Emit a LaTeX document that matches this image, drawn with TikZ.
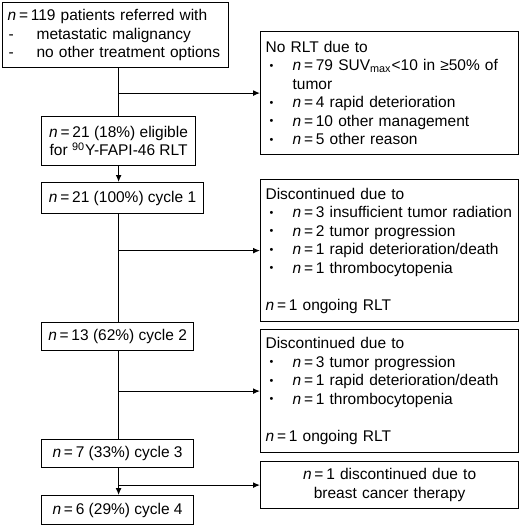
\documentclass[tikz,border=0pt]{standalone}
\usepackage{fontspec}
\setmainfont{Liberation Sans}
\usetikzlibrary{arrows.meta, positioning, calc}

\newcommand{\nval}{\textit{n}\hspace{0.18em}=\hspace{0.18em}}
\newcommand{\bitem}[1]{\hspace*{2pt}\makebox[11.5pt][l]{\raisebox{0.7pt}{\scalebox{0.7}{•}}}#1}
\newcommand{\ditem}[1]{\hspace*{0.5pt}\makebox[14pt][l]{-}#1}

\begin{document}
\begin{tikzpicture}[
    x=0.5pt, y=-0.5pt,
    font=\fontsize{7.75pt}{9.25pt}\selectfont,
    line width=0.6pt,
    flowbox/.style={rectangle, draw=black, anchor=north west, inner xsep=2.5pt, inner ysep=1pt, align=center},
    sidebox/.style={flowbox, text width=124pt, align=left},
    arr/.style={-{Latex[length=3.5pt,width=3pt]}}
]
\useasboundingbox (0,0) rectangle (520,530);
\node[flowbox, text width=108pt, minimum height=32.5pt, align=left] (start) at (2,2)
    {\nval 119 patients referred with\\ \ditem{metastatic malignancy}\\ \ditem{no other treatment options}};
\node[flowbox, minimum width=77pt, minimum height=24.5pt] (elig) at (41,116)
    {\nval 21 (18\%) eligible\\ for \textsuperscript{90}Y-FAPI-46 RLT};
\node[flowbox, minimum width=81pt, minimum height=15.5pt] (cyc1) at (41,182) {\nval 21 (100\%) cycle 1};
\node[flowbox, minimum width=76pt, minimum height=14pt] (cyc2) at (41,322) {\nval 13 (62\%) cycle 2};
\node[flowbox, minimum width=76pt, minimum height=14pt] (cyc3) at (41,439) {\nval 7 (33\%) cycle 3};
\node[flowbox, minimum width=76pt, minimum height=14.5pt] (cyc4) at (41,495) {\nval 6 (29\%) cycle 4};

\node[sidebox, minimum height=61.5pt] (norlt) at (260,31)
    {No RLT due to\\
     \bitem{\nval 79 SUV\textsubscript{max}<10 in ≥50\% of}\\
     \hspace*{13.5pt}tumor\\
     \bitem{\nval 4 rapid deterioration}\\
     \bitem{\nval 10 other management}\\
     \bitem{\nval 5 other reason}};
\node[sidebox, minimum height=71pt] (disc1) at (260,179)
    {Discontinued due to\\
     \bitem{\nval 3 insufficient tumor radiation}\\
     \bitem{\nval 2 tumor progression}\\
     \bitem{\nval 1 rapid deterioration/death}\\
     \bitem{\nval 1 thrombocytopenia}\\[9.25pt]
     \nval 1 ongoing RLT};
\node[sidebox, minimum height=61.5pt] (disc2) at (260,329)
    {Discontinued due to\\
     \bitem{\nval 3 tumor progression}\\
     \bitem{\nval 1 rapid deterioration/death}\\
     \bitem{\nval 1 thrombocytopenia}\\[9.25pt]
     \nval 1 ongoing RLT};
\node[sidebox, minimum height=23.5pt, align=center] (disc3) at (260,461)
    {\nval 1 discontinued due to\\ breast cancer therapy};

\draw (start.south -| elig.north) -- (elig.north);
\draw[arr] (elig.north |- norlt.west) -- (norlt.west);
\draw[arr] (elig.south) -- (elig.south |- cyc1.north);
\draw (elig.south |- cyc1.south) -- (elig.south |- cyc2.north);
\draw[arr] (elig.south |- disc1.west) -- (disc1.west);
\draw (elig.south |- cyc2.south) -- (elig.south |- cyc3.north);
\draw[arr] (elig.south |- disc2.west) -- (disc2.west);
\draw[arr] (elig.south |- cyc3.south) -- (elig.south |- cyc4.north);
\draw[arr] (elig.south |- disc3.west) -- (disc3.west);
\end{tikzpicture}
\end{document}
